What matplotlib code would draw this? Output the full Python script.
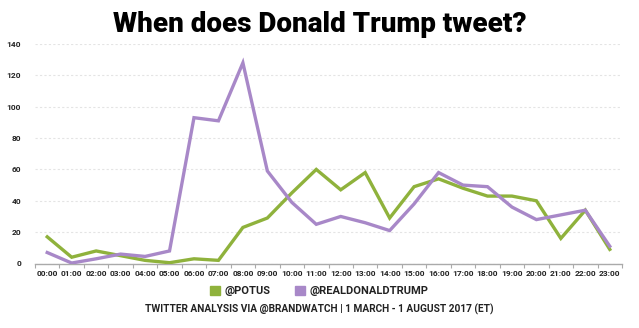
import matplotlib
matplotlib.use('Agg')
import matplotlib.pyplot as plt
from matplotlib.patches import Patch

# hours of the day (ET)
hours = ['%02d:00' % h for h in range(24)]

# tweet counts
potus = [17, 4, 8, 5, 2, 0.5, 3, 2, 23, 29, 45, 60,
         47, 58, 29, 49, 54, 48, 43, 43, 40, 16, 34, 9]
realdonaldtrump = [7, 0.3, 3, 6, 4.5, 8, 93, 91, 128, 59, 39, 25,
                   30, 26, 21, 38, 58, 50, 49, 36, 28, 31, 34, 11]

green = '#8fb23c'
purple = '#a888c8'

plt.rcParams['font.family'] = ['Roboto', 'DejaVu Sans']

fig = plt.figure(figsize=(6.39, 3.28), dpi=100)
ax = fig.add_axes([35 / 639, 1 - 263.5 / 328, (622 - 35) / 639, (263.5 - 44) / 328])

x = range(len(hours))
ax.plot(x, potus, color=green, lw=2.4, solid_joinstyle='miter', zorder=3)
ax.plot(x, realdonaldtrump, color=purple, lw=2.4, solid_joinstyle='miter', zorder=3)

ax.set_xlim(-0.43, 23.43)
ax.set_ylim(0, 140)
ax.set_yticks(range(0, 141, 20))
ax.set_xticks(list(x))
ax.set_xticklabels(hours, fontsize=6, fontweight='bold', color='#222222')
ax.set_xticks([i + 0.5 for i in range(-1, 24)], minor=True)
ax.tick_params(axis='x', which='major', length=0, pad=5)
ax.tick_params(axis='x', which='minor', length=3, color='#aaaaaa', width=0.8)
ax.tick_params(axis='y', length=0, labelsize=6, pad=10, labelcolor='#222222')
for lab in ax.get_yticklabels():
    lab.set_fontweight('bold')

ax.grid(axis='y', color='#e4e4e4', lw=0.8, linestyle=(0, (2, 2)))
ax.set_axisbelow(True)
for s in ['top', 'right', 'left']:
    ax.spines[s].set_visible(False)
ax.spines['bottom'].set_color('#aaaaaa')
ax.spines['bottom'].set_linewidth(1)

fig.text(0.5, 1 - 24 / 328, 'When does Donald Trump tweet?', ha='center', va='center',
         fontsize=20, fontweight='black', color='black')

handles = [Patch(color=green, label='@POTUS'), Patch(color=purple, label='@REALDONALDTRUMP')]
leg = fig.legend(handles=handles, loc='center', bbox_to_anchor=(0.5, 1 - 291 / 328), ncol=2,
                 frameon=False, fontsize=8, handlelength=0.9, handleheight=0.9,
                 handletextpad=0.4, columnspacing=2.2)
for t in leg.get_texts():
    t.set_fontweight('bold')
    t.set_color('#222222')

fig.text(0.5, 1 - 309 / 328, 'TWITTER ANALYSIS VIA @BRANDWATCH | 1 MARCH - 1 AUGUST 2017 (ET)',
         ha='center', va='center', fontsize=7.3, fontweight='bold', color='#222222')

fig.savefig('out.png', dpi=100)
